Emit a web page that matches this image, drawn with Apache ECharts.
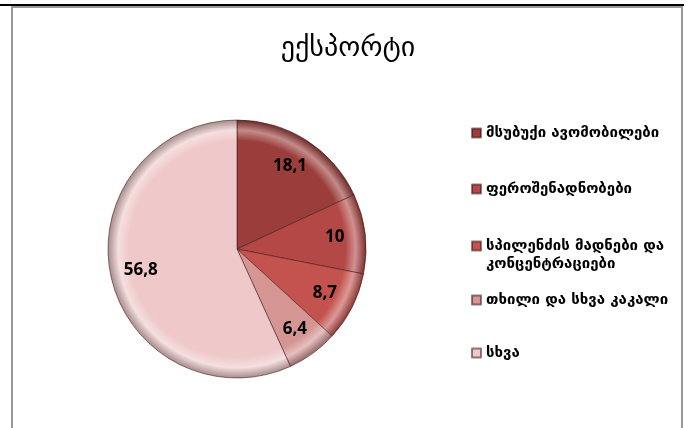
<!DOCTYPE html>
<html>
<head>
<meta charset="utf-8">
<script src="https://cdn.jsdelivr.net/npm/echarts@6/dist/echarts.min.js"></script>
<style>
html,body{margin:0;padding:0;background:#fff;}
#chart{width:686px;height:428px;}
</style>
</head>
<body>
<div id="chart"></div>
<script>
var titleText = 'ექსპორტი';
var categories = ['მსუბუქი ავომობილები', 'ფეროშენადნობები', 'სპილენძის მადნები და\nკონცენტრაციები', 'თხილი და სხვა კაკალი', 'სხვა'];
var values = [18.1, 10, 8.7, 6.4, 56.8];
var colors = ['#9b3d3b', '#b34846', '#c4534f', '#d49593', '#efc9c9'];
var legendTops = [119, 175, 232, 286, 339];

var cx = 237, cy = 249, R = 129;

function shade(hex, k){
	var n = parseInt(hex.slice(1), 16);
	var r = (n >> 16) & 255, g = (n >> 8) & 255, b = n & 255;
	function f(c){ return Math.max(0, Math.min(255, Math.round(k > 0 ? c + (255 - c) * k : c * (1 + k)))); }
	return 'rgb(' + f(r) + ',' + f(g) + ',' + f(b) + ')';
}

var pieData = [];
var labelData = [];
var legends = [];
for (var i = 0; i < categories.length; i++) {
	var c = colors[i];
	pieData.push({
		name: categories[i],
		value: values[i],
		itemStyle: {
			color: {
				type: 'radial', x: cx, y: cy, r: R, global: true,
				colorStops: [
					{offset: 0, color: c},
					{offset: 0.84, color: c},
					{offset: 0.92, color: shade(c, 0.4)},
					{offset: 1, color: shade(c, -0.3)}
				]
			}
		}
	});
	labelData.push({name: categories[i], value: values[i]});
	var multi = categories[i].indexOf('\n') >= 0;
	legends.push({
		orient: 'vertical',
		left: 466,
		top: legendTops[i] - (multi ? 18 : 0),
		itemWidth: 9,
		itemHeight: 9,
		icon: 'rect',
		selectedMode: false,
		data: [{name: categories[i], itemStyle: {color: c}}],
		// empty first line keeps the icon level with the first text line
		formatter: multi ? function(n){ return ' \n' + n; } : '{name}',
		textStyle: {fontFamily: 'DejaVu Sans', fontSize: 15, fontWeight: 'bold', color: '#000', lineHeight: 18}
	});
}

var myChart = echarts.init(document.getElementById('chart'));
var option = {
	backgroundColor: '#fff',
	animation: false,
	title: {
		text: titleText,
		left: 343,
		top: 30,
		textAlign: 'center',
		textStyle: {fontFamily: 'DejaVu Sans', fontSize: 28, fontWeight: 'normal', color: '#000'}
	},
	legend: legends,
	graphic: [
		{type: 'line', shape: {x1: 0, y1: 5, x2: 684, y2: 5}, style: {stroke: '#000', lineWidth: 2}},
		{type: 'polyline', shape: {points: [[12, 430], [12, 7], [682, 7], [682, 430]]}, style: {stroke: '#999', lineWidth: 2, fill: null}}
	],
	series: [
		{
			type: 'pie',
			center: [cx, cy],
			radius: [0, R],
			startAngle: 90,
			clockwise: true,
			silent: true,
			label: {show: false},
			labelLine: {show: false},
			itemStyle: {borderColor: 'rgba(60,20,20,0.55)', borderWidth: 1},
			data: pieData
		},
		{
			type: 'pie',
			center: [cx, cy],
			radius: [62, R],
			startAngle: 90,
			clockwise: true,
			silent: true,
			itemStyle: {color: 'rgba(0,0,0,0)'},
			label: {
				show: true,
				position: 'inside',
				fontFamily: 'Open Sans',
				fontWeight: 'bold',
				fontSize: 17,
				color: '#000',
				formatter: function(p){ return String(p.value).replace('.', ','); }
			},
			labelLine: {show: false},
			data: labelData
		}
	]
};
myChart.setOption(option);
</script>
</body>
</html>
